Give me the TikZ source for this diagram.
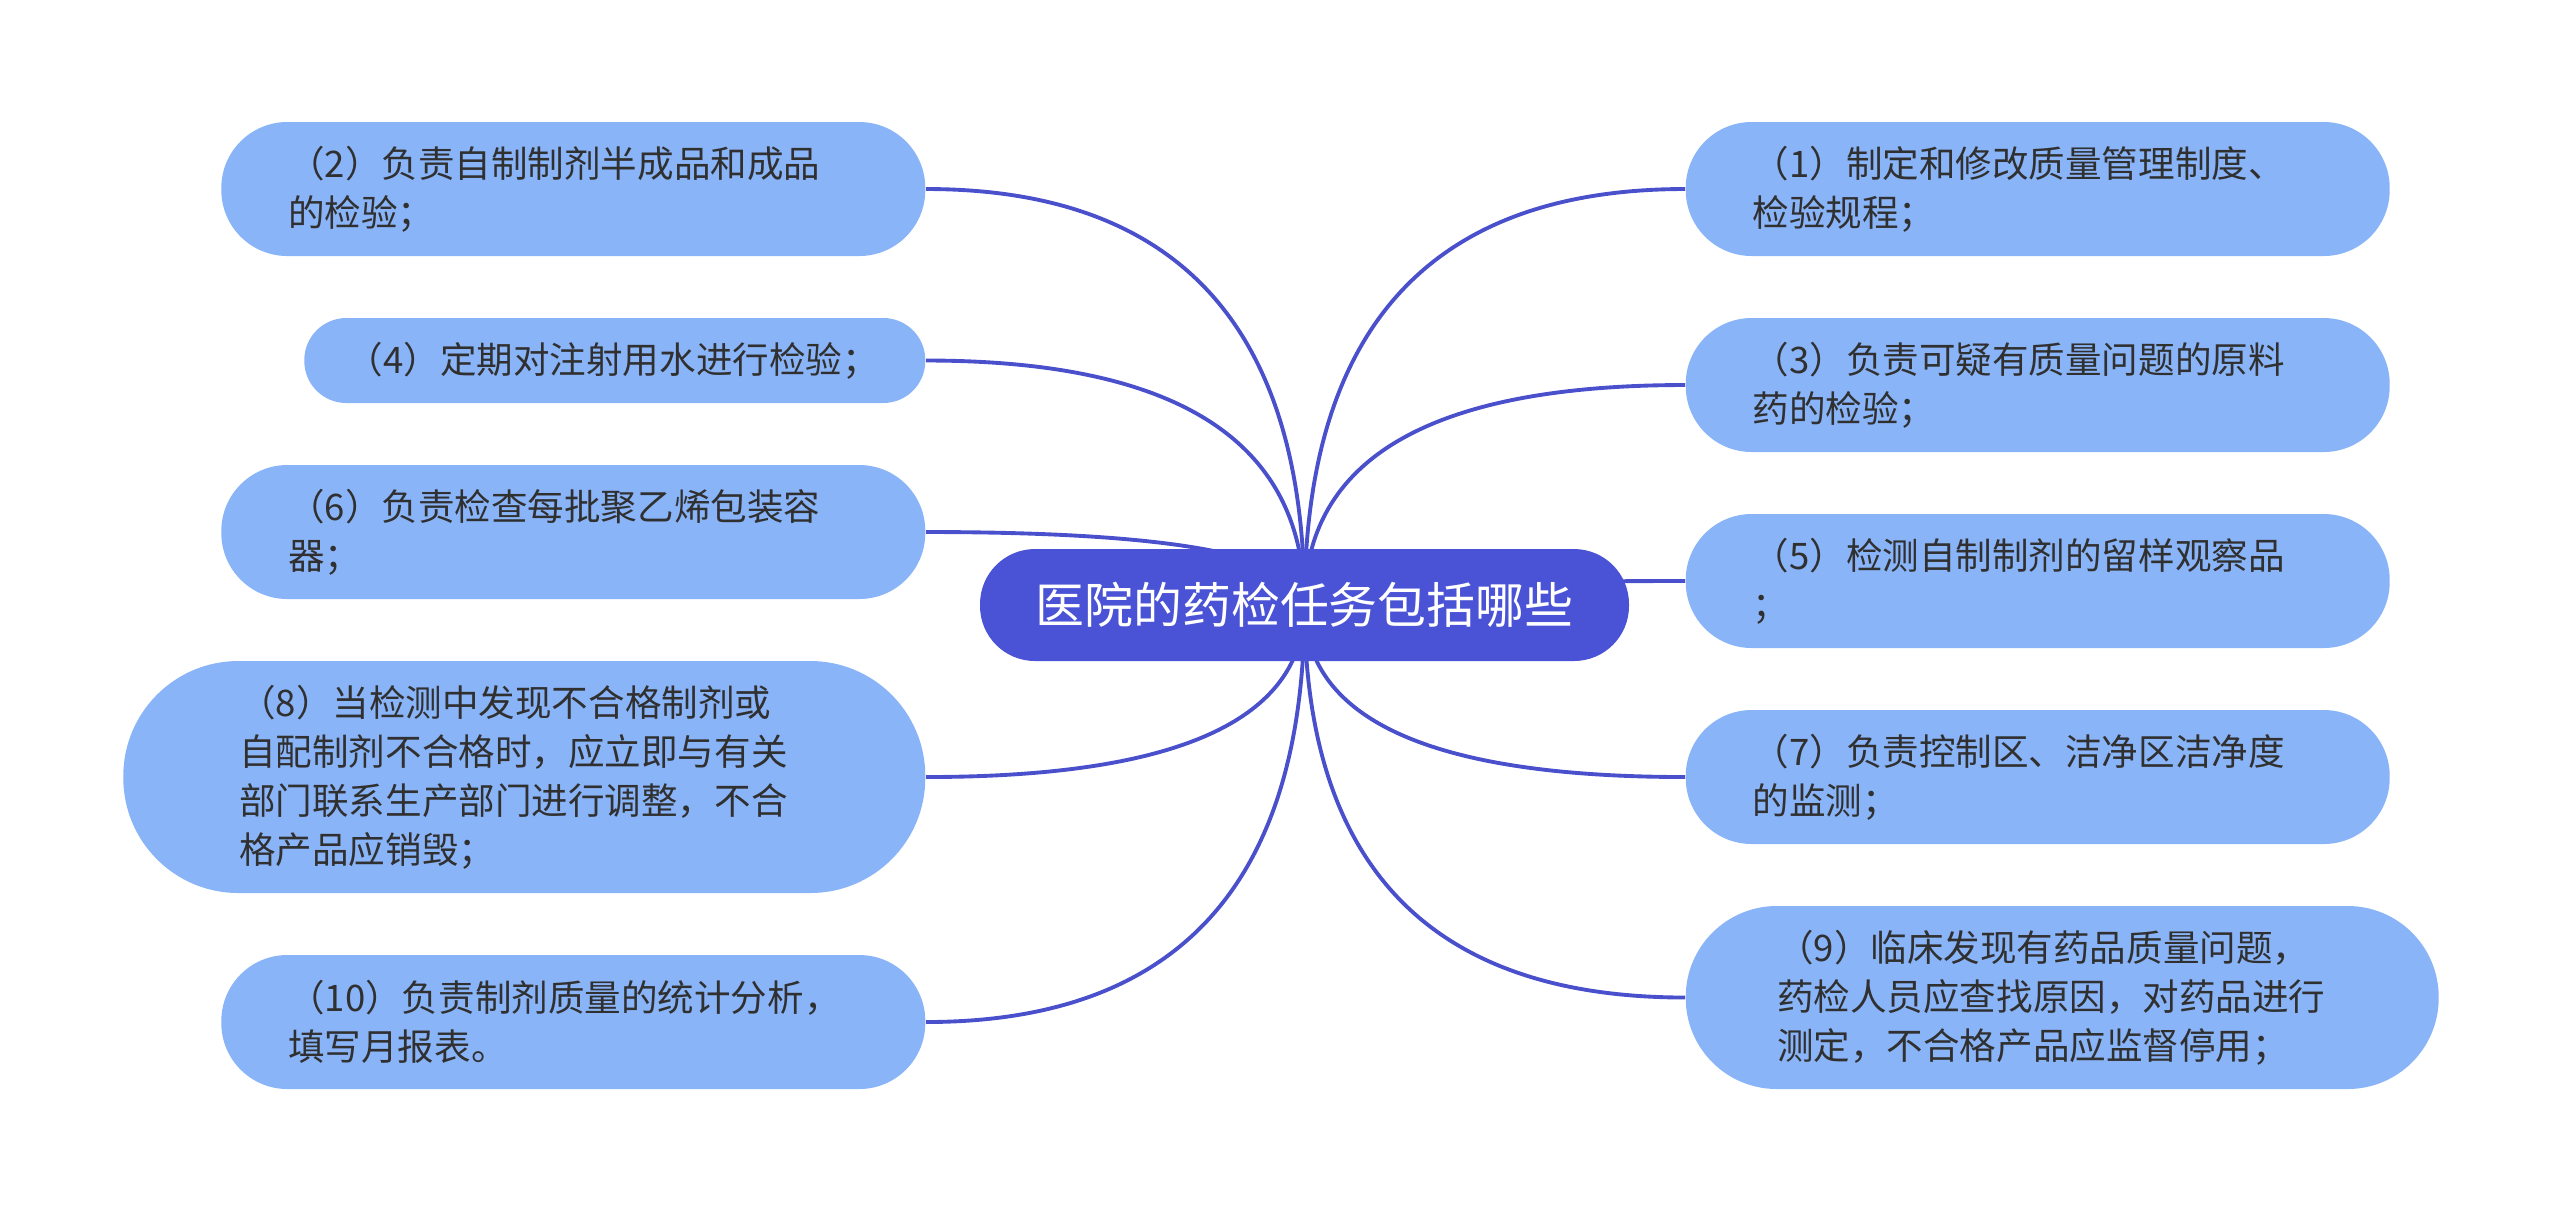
\documentclass[tikz,border=0pt]{standalone}
\usepackage{fontspec}
\setmainfont{Noto Sans CJK SC}
\usepackage{tikz}
\usetikzlibrary{calc, backgrounds}
\definecolor{rootblue}{HTML}{4A53D5}
\definecolor{leafblue}{HTML}{8AB4F8}
\definecolor{linkblue}{HTML}{4A50CC}
\definecolor{leaftext}{HTML}{303030}

\tikzset{
    root/.style={fill=rootblue, text=white, rounded corners=0.55cm, minimum width=6.49cm, minimum height=1.12cm, inner sep=0pt, font=\fontsize{13.9pt}{16pt}\selectfont},
    leaf/.style={fill=leafblue, text=leaftext, align=left, text width=5.7cm, inner ysep=0pt, font=\fontsize{10.4pt}{13.94pt}\selectfont},
    line1/.style={minimum height=0.85cm, inner xsep=0.425cm, rounded corners=0.42cm},
    line2/.style={minimum height=1.34cm, inner xsep=0.67cm, rounded corners=0.66cm},
    line3/.style={minimum height=1.83cm, inner xsep=0.915cm, rounded corners=0.91cm},
    line4/.style={minimum height=2.32cm, inner xsep=1.16cm, rounded corners=1.15cm},
    branch/.style={draw=linkblue, line width=1.1pt}
}

\begin{document}
\begin{tikzpicture}
    \useasboundingbox (0,0) rectangle (25.6,-12.11);

    % Root
    \node[root] (root) at (13.045,-6.05) {医院的药检任务包括哪些};

    % Left leaves
    \node[leaf, line2, anchor=east] (l2) at (9.26,-1.89) {（2）负责自制制剂半成品和成品\\的检验；};
    \node[leaf, line1, text width=5.36cm, anchor=east] (l4) at (9.26,-3.605) {（4）定期对注射用水进行检验；};
    \node[leaf, line2, anchor=east] (l6) at (9.26,-5.32) {（6）负责检查每批聚乙烯包装容\\器；};
    \node[leaf, line4, anchor=east] (l8) at (9.26,-7.77) {（8）当检测中发现不合格制剂或\\自配制剂不合格时，应立即与有关\\部门联系生产部门进行调整，不合\\格产品应销毁；};
    \node[leaf, line2, anchor=east] (l10) at (9.26,-10.22) {（10）负责制剂质量的统计分析，\\填写月报表。};

    % Right leaves
    \node[leaf, line2, anchor=west] (r1) at (16.85,-1.89) {（1）制定和修改质量管理制度、\\检验规程；};
    \node[leaf, line2, anchor=west] (r3) at (16.85,-3.85) {（3）负责可疑有质量问题的原料\\药的检验；};
    \node[leaf, line2, anchor=west] (r5) at (16.85,-5.81) {（5）检测自制制剂的留样观察品\\；};
    \node[leaf, line2, anchor=west] (r7) at (16.85,-7.77) {（7）负责控制区、洁净区洁净度\\的监测；};
    \node[leaf, line3, anchor=west] (r9) at (16.85,-9.975) {（9）临床发现有药品质量问题，\\药检人员应查找原因，对药品进行\\测定，不合格产品应监督停用；};

    % Branches
    \begin{scope}[on background layer]
        \foreach \n/\a in {l2/east, l4/east, l6/east, l8/east, l10/east, r1/west, r3/west, r5/west, r7/west, r9/west} {
            \coordinate (k) at (root.center |- \n.\a);
            \draw[branch] (root.center) .. controls ($(root.center)!0.667!(k)$) and ($(\n.\a)!0.667!(k)$) .. (\n.\a);
        }
    \end{scope}
\end{tikzpicture}
\end{document}
